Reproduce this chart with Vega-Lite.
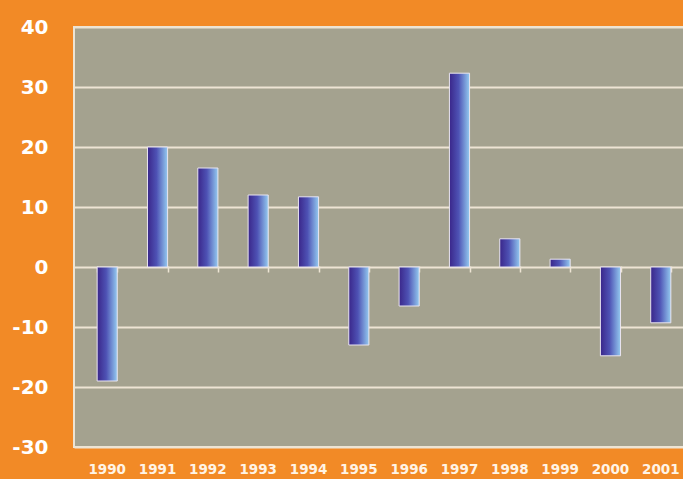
{
  "$schema": "https://vega.github.io/schema/vega-lite/v6.json",
  "autosize": "none",
  "width": 620,
  "height": 420,
  "padding": {"left": 74, "top": 27, "right": 0, "bottom": 32},
  "background": "#F28A26",
  "view": {"fill": "#A4A28F", "stroke": "#EDE4D4", "strokeWidth": 2},
  "data": {"values": [
    {"year": "1990", "value": -19.0},
    {"year": "1991", "value": 20.0},
    {"year": "1992", "value": 16.5},
    {"year": "1993", "value": 12.0},
    {"year": "1994", "value": 11.7},
    {"year": "1995", "value": -13.0},
    {"year": "1996", "value": -6.5},
    {"year": "1997", "value": 32.3},
    {"year": "1998", "value": 4.7},
    {"year": "1999", "value": 1.3},
    {"year": "2000", "value": -14.8},
    {"year": "2001", "value": -9.3}
  ]},
  "encoding": {
    "x": {
      "field": "year", "type": "ordinal", "sort": null,
      "scale": {"paddingInner": 0.6, "paddingOuter": 0.46}
    }
  },
  "layer": [
    {
      "mark": {
        "type": "bar",
        "color": {
          "gradient": "linear", "x1": 0, "x2": 1, "y1": 0, "y2": 0,
          "stops": [
            {"offset": 0, "color": "#3A268A"},
            {"offset": 0.45, "color": "#4E52B4"},
            {"offset": 1, "color": "#94CAF0"}
          ]
        },
        "stroke": "#E8E4F0",
        "strokeWidth": 1
      },
      "encoding": {
        "x": {
          "field": "year", "type": "ordinal", "sort": null,
          "axis": {
            "title": null, "domain": false, "ticks": false, "labelAngle": 0,
            "labelColor": "#FFF4E6", "labelFont": "DejaVu Sans", "labelFontWeight": "bold",
            "labelFontSize": 13.5, "labelPadding": 15, "labelOverlap": false
          }
        },
        "y": {
          "field": "value", "type": "quantitative",
          "scale": {"domain": [-30, 40], "nice": false},
          "axis": {
            "title": null, "values": [-30, -20, -10, 0, 10, 20, 30, 40],
            "labelExpr": "'' + datum.value",
            "domain": false, "ticks": false,
            "grid": true, "gridColor": "#EDE4D4", "gridWidth": 2, "gridOpacity": 1,
            "labelColor": "white", "labelFont": "DejaVu Sans", "labelFontWeight": "bold",
            "labelFontSize": 20, "labelPadding": 26
          }
        }
      }
    },
    {
      "mark": {"type": "tick", "opacity": 0},
      "encoding": {
        "x": {
          "field": "year", "type": "ordinal", "sort": null,
          "axis": {
            "title": null, "orient": "bottom", "offset": -181, "labels": false,
            "domain": false, "ticks": true, "tickBand": "extent", "tickSize": 6,
            "tickColor": "#EDE4D4", "tickWidth": 1.5
          }
        },
        "y": {"field": "value", "type": "quantitative"}
      }
    }
  ],
  "resolve": {"axis": {"x": "independent"}}
}
